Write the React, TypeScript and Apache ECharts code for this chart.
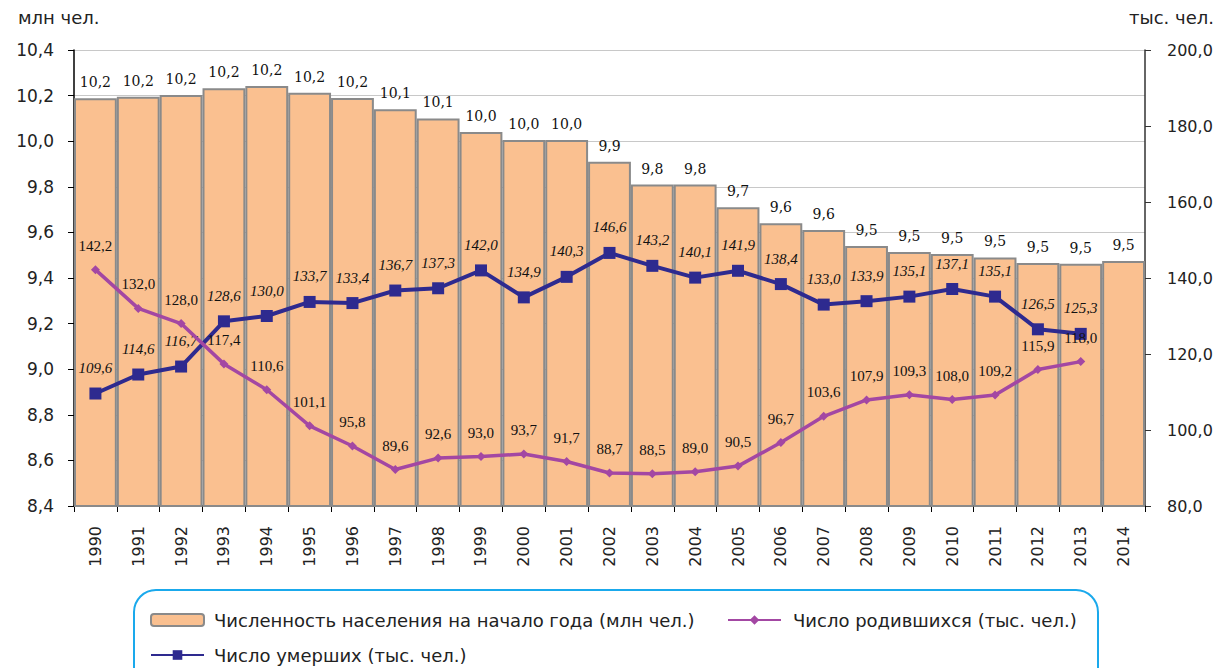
import React, { useEffect, useRef } from "react";
import * as echarts from "echarts";

const years = ["1990","1991","1992","1993","1994","1995","1996","1997","1998","1999","2000","2001","2002","2003","2004","2005","2006","2007","2008","2009","2010","2011","2012","2013","2014"];
const population = [10.188, 10.195, 10.203, 10.232, 10.242, 10.213, 10.19, 10.14, 10.1, 10.04, 10.005, 10.005, 9.91, 9.81, 9.81, 9.71, 9.64, 9.61, 9.54, 9.514, 9.505, 9.49, 9.466, 9.462, 9.475];
const births = [142.2, 132.0, 128.0, 117.4, 110.6, 101.1, 95.8, 89.6, 92.6, 93.0, 93.7, 91.7, 88.7, 88.5, 89.0, 90.5, 96.7, 103.6, 107.9, 109.3, 108.0, 109.2, 115.9, 118.0];
const deaths = [109.6, 114.6, 116.7, 128.6, 130.0, 133.7, 133.4, 136.7, 137.3, 142.0, 134.9, 140.3, 146.6, 143.2, 140.1, 141.9, 138.4, 133.0, 133.9, 135.1, 137.1, 135.1, 126.5, 125.3];

const NAME_POP = "Численность населения на начало года (млн чел.)";
const NAME_BIRTHS = "Число родившихся (тыс. чел.)";
const NAME_DEATHS = "Число умерших (тыс. чел.)";

const fmt = (v: number) => v.toFixed(1).replace(".", ",");

export default function App() {
  const ref = useRef<HTMLDivElement>(null);
  useEffect(() => {
    if (!ref.current) return;
    const chart = echarts.init(ref.current, null, { renderer: "svg" });
    const sans = "DejaVu Sans, Verdana, sans-serif";
    const serif = "Liberation Serif, Times New Roman, serif";
    const wideSerif = "DejaVu Serif, serif";
    chart.setOption({
      animation: false,
      backgroundColor: "#ffffff",
      grid: { left: 74, right: 75, top: 50, bottom: 162 },
      graphic: [
        { type: "text", left: 18, top: 8, style: { text: "млн чел.", font: "18px " + sans, fill: "#222" } },
        { type: "text", right: 6, top: 8, style: { text: "тыс. чел.", font: "18px " + sans, fill: "#222" } },
        { type: "rect", shape: { x: 134, y: 590, width: 964, height: 110, r: 22 }, style: { fill: "none", stroke: "#1aa9ec", lineWidth: 2 } },
      ],
      legend: [
        { data: [NAME_POP], left: 145, top: 606, itemWidth: 53, itemHeight: 12, textStyle: { fontFamily: sans, fontSize: 18, color: "#222", padding: [0, 0, 0, 5] } },
        { data: [NAME_BIRTHS], left: 722, top: 606, itemWidth: 53, itemHeight: 12, textStyle: { fontFamily: sans, fontSize: 18, color: "#222", padding: [0, 0, 0, 7] } },
        { data: [NAME_DEATHS], left: 145, top: 641, itemWidth: 53, itemHeight: 12, textStyle: { fontFamily: sans, fontSize: 18, color: "#222", padding: [0, 0, 0, 5] } },
      ],
      xAxis: {
        type: "category",
        data: years,
        boundaryGap: true,
        axisLine: { lineStyle: { color: "#000", width: 1.5 } },
        axisTick: { show: true, alignWithLabel: false, length: 6, lineStyle: { color: "#000" } },
        axisLabel: { rotate: 90, fontFamily: sans, fontSize: 16, color: "#222", margin: 20, interval: 0 },
      },
      yAxis: [
        {
          type: "value",
          min: 8.4,
          max: 10.4,
          interval: 0.2,
          position: "left",
          axisLine: { show: true, lineStyle: { color: "#000", width: 1.5 } },
          axisTick: { show: true, length: 6, lineStyle: { color: "#000" } },
          axisLabel: { formatter: (v: number) => fmt(v), fontFamily: sans, fontSize: 17, color: "#222", margin: 20 },
          splitLine: { show: true, lineStyle: { color: "#c8c8c8", width: 1 } },
        },
        {
          type: "value",
          min: 80,
          max: 200,
          interval: 20,
          position: "right",
          axisLine: { show: true, lineStyle: { color: "#333", width: 1.5 } },
          axisTick: { show: true, length: 6, lineStyle: { color: "#333" } },
          axisLabel: { formatter: (v: number) => fmt(v), fontFamily: sans, fontSize: 16, color: "#222", margin: 22 },
          splitLine: { show: false },
        },
      ],
      series: [
        {
          name: NAME_POP,
          type: "bar",
          data: population,
          yAxisIndex: 0,
          barCategoryGap: "0%",
          itemStyle: { color: "#fac090", borderColor: "#8a8a8a", borderWidth: 2 },
          label: {
            show: true,
            position: "top",
            distance: 9,
            formatter: (p: any) => fmt(p.value),
            fontFamily: wideSerif,
            fontSize: 14,
            color: "#111",
          },
          z: 1,
        },
        {
          name: NAME_DEATHS,
          type: "line",
          data: deaths,
          yAxisIndex: 1,
          symbol: "rect",
          symbolSize: 12,
          lineStyle: { color: "#2e2a8f", width: 4 },
          itemStyle: { color: "#2e2a8f" },
          label: {
            show: true,
            position: "top",
            distance: 12,
            formatter: (p: any) => fmt(p.value),
            fontFamily: serif,
            fontStyle: "italic",
            fontSize: 15,
            color: "#111",
          },
          z: 3,
        },
        {
          name: NAME_BIRTHS,
          type: "line",
          data: births,
          yAxisIndex: 1,
          symbol: "diamond",
          symbolSize: 9,
          lineStyle: { color: "#a347a3", width: 3.5 },
          itemStyle: { color: "#a347a3" },
          label: {
            show: true,
            position: "top",
            distance: 12,
            formatter: (p: any) => fmt(p.value),
            fontFamily: serif,
            fontSize: 15,
            color: "#111",
          },
          z: 4,
        },
      ],
    });
    return () => chart.dispose();
  }, []);
  return <div ref={ref} style={{ width: 1220, height: 668, position: "absolute", left: 0, top: 0 }} />;
}
